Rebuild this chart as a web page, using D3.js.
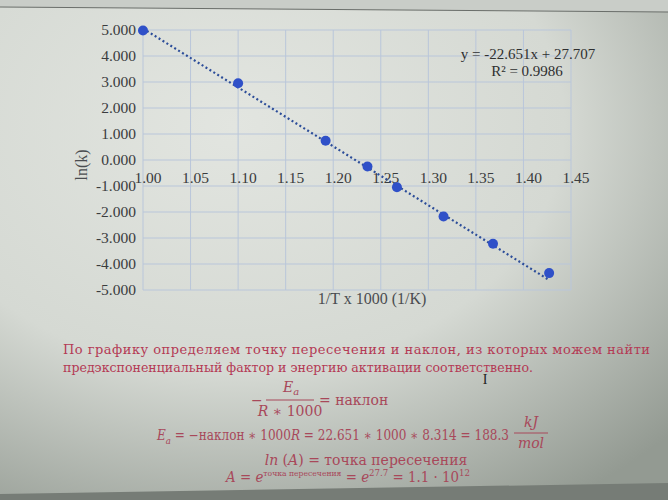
<!DOCTYPE html>
<html>
<head>
<meta charset="utf-8">
<script src="https://cdn.jsdelivr.net/npm/d3@7"></script>
<style>
  html, body { margin: 0; padding: 0; background: #d4d8d3; }
  svg { display: block; }
</style>
</head>
<body>
<svg id="chart" width="668" height="500"></svg>
<script>
// data
var xVals = [1.000, 1.100, 1.192, 1.236, 1.267, 1.316, 1.368, 1.427];
var yVals = [4.98, 2.95, 0.74, -0.25, -1.05, -2.17, -3.22, -4.35];
var xTicks = [1.00, 1.05, 1.10, 1.15, 1.20, 1.25, 1.30, 1.35, 1.40, 1.45];
var yTicks = [5, 4, 3, 2, 1, 0, -1, -2, -3, -4, -5];
var fitSlope = -22.651, fitIntercept = 27.707, fitR2 = 0.9986;
var paraLines = [
  'По графику определяем точку пересечения и наклон, из которых можем найти',
  'предэкспоненциальный фактор и энергию активации соответственно.'
];

var svg = d3.select('#chart'),
    W = 668, H = 500;

var defs = svg.append('defs');
var bg = defs.append('radialGradient').attr('id', 'bg')
  .attr('cx', '35%').attr('cy', '25%').attr('r', '90%');
bg.append('stop').attr('offset', '0%').attr('stop-color', '#e2e5e0');
bg.append('stop').attr('offset', '55%').attr('stop-color', '#d5d9d3');
bg.append('stop').attr('offset', '100%').attr('stop-color', '#939a92');
svg.append('rect').attr('width', W).attr('height', H).attr('fill', 'url(#bg)');

// screen edges
svg.append('path').attr('d', 'M0,0 L668,0 L668,12 L0,7 Z').attr('fill', '#c9cdc8');
svg.append('line').attr('x1', 0).attr('y1', 7).attr('x2', W).attr('y2', 12)
  .attr('stroke', '#6a6e6a').attr('stroke-width', 1);
svg.append('path').attr('d', 'M0,494 L668,483 L668,500 L0,500 Z').attr('fill', '#767c76');

var x = d3.scaleLinear().domain([1.00, 1.45]).range([143, 571]),
    y = d3.scaleLinear().domain([-5, 5]).range([290, 30]);

// grid
var g = svg.append('g');
g.selectAll('.vg').data(xTicks).enter().append('line')
  .attr('x1', d => x(d)).attr('x2', d => x(d))
  .attr('y1', y(5)).attr('y2', y(-5))
  .attr('stroke', '#b9c6da').attr('stroke-width', 1);
g.selectAll('.hg').data(yTicks).enter().append('line')
  .attr('x1', x(1.00)).attr('x2', x(1.45))
  .attr('y1', d => y(d)).attr('y2', d => y(d))
  .attr('stroke', '#b9c6da').attr('stroke-width', 1);

var serif = '"Liberation Serif", "Times New Roman", serif';

// y tick labels
g.selectAll('.yl').data(yTicks).enter().append('text')
  .attr('x', 136).attr('y', d => y(d) + 5)
  .attr('text-anchor', 'end')
  .attr('font-family', serif).attr('font-size', 15.5).attr('fill', '#3a3c3e')
  .text(d => d3.format('.3f')(d).replace('−', '-'));

// x tick labels sit under the zero line
g.selectAll('.xl').data(xTicks).enter().append('text')
  .attr('x', d => x(d) + 5).attr('y', y(0) + 23)
  .attr('text-anchor', 'middle')
  .attr('font-family', serif).attr('font-size', 15.5).attr('fill', '#3a3c3e')
  .text(d => d3.format('.2f')(d));

// axis titles
svg.append('text')
  .attr('transform', 'translate(87,165) rotate(-90)')
  .attr('text-anchor', 'middle')
  .attr('font-family', serif).attr('font-size', 16).attr('fill', '#4a4d50')
  .text('ln(k)');
svg.append('text')
  .attr('x', 372).attr('y', 304).attr('text-anchor', 'middle')
  .attr('font-family', serif).attr('font-size', 16).attr('fill', '#4a4d50')
  .text('1/T x 1000 (1/K)');

// trend line
var xMin = d3.min(xVals), xMax = d3.max(xVals);
svg.append('line')
  .attr('x1', x(xMin)).attr('y1', y(fitSlope * xMin + fitIntercept))
  .attr('x2', x(xMax)).attr('y2', y(fitSlope * xMax + fitIntercept))
  .attr('stroke', '#2c4d99').attr('stroke-width', 2.2)
  .attr('stroke-dasharray', '2,2.6');

// points
svg.selectAll('.pt').data(xVals).enter().append('circle')
  .attr('cx', d => x(d)).attr('cy', (d, i) => y(yVals[i]))
  .attr('r', 5).attr('fill', '#2f50c8');

// equation label
svg.append('text').attr('x', 528).attr('y', 59).attr('text-anchor', 'middle')
  .attr('font-family', serif).attr('font-size', 15).attr('fill', '#2e2f30')
  .text('y = ' + fitSlope + 'x + ' + fitIntercept);
svg.append('text').attr('x', 527).attr('y', 76).attr('text-anchor', 'middle')
  .attr('font-family', serif).attr('font-size', 15).attr('fill', '#2e2f30')
  .text('R² = ' + fitR2);

// paragraph
var red = '#b43a55', mred = '#a8485a',
    body = '"DejaVu Serif", serif',
    math = '"DejaVu Serif", "Liberation Serif", serif';
svg.append('text').attr('x', 63).attr('y', 354)
  .attr('font-family', body).attr('font-size', 13).attr('fill', red)
  .attr('textLength', 587).attr('lengthAdjust', 'spacing')
  .text(paraLines[0]);
svg.append('text').attr('x', 63).attr('y', 372)
  .attr('font-family', body).attr('font-size', 13).attr('fill', red)
  .attr('textLength', 470).attr('lengthAdjust', 'spacingAndGlyphs')
  .text(paraLines[1]);

// text cursor
svg.append('text').attr('x', 485).attr('y', 384).attr('text-anchor', 'middle')
  .attr('font-family', serif).attr('font-size', 14).attr('fill', '#222')
  .text('I');

// formulas
var f = svg.append('g').attr('font-family', math).attr('fill', mred).attr('font-size', 14);
f.append('text').attr('x', 251).attr('y', 405).text('−');
f.append('text').attr('x', 291).attr('y', 392).attr('text-anchor', 'middle')
  .attr('font-style', 'italic').html('E<tspan font-size="10" dy="3">a</tspan>');
f.append('line').attr('x1', 266).attr('x2', 314).attr('y1', 400).attr('y2', 400)
  .attr('stroke', mred).attr('stroke-width', 1);
f.append('text').attr('x', 290).attr('y', 416).attr('text-anchor', 'middle')
  .html('<tspan font-style="italic">R</tspan> ∗ 1000');
f.append('text').attr('x', 319).attr('y', 405).text('= наклон');

f.append('text').attr('x', 157).attr('y', 440)
  .attr('textLength', 352).attr('lengthAdjust', 'spacingAndGlyphs')
  .html('<tspan font-style="italic">E</tspan><tspan font-style="italic" font-size="10" dy="4">a</tspan>'
    + '<tspan dy="-4"> = −наклон ∗ 1000</tspan><tspan font-style="italic">R</tspan>'
    + '<tspan> = 22.651 ∗ 1000 ∗ 8.314 = 188.3</tspan>');
f.append('text').attr('x', 531).attr('y', 427).attr('text-anchor', 'middle')
  .attr('font-style', 'italic').text('kJ');
f.append('line').attr('x1', 514).attr('x2', 548).attr('y1', 433).attr('y2', 433)
  .attr('stroke', mred).attr('stroke-width', 1);
f.append('text').attr('x', 531).attr('y', 448).attr('text-anchor', 'middle')
  .attr('font-style', 'italic').text('mol');

f.append('text').attr('x', 366).attr('y', 465).attr('text-anchor', 'middle')
  .html('<tspan font-style="italic">ln</tspan> (<tspan font-style="italic">A</tspan>) = точка пересечения');
f.append('text').attr('x', 348).attr('y', 482).attr('text-anchor', 'middle')
  .attr('textLength', 244).attr('lengthAdjust', 'spacingAndGlyphs')
  .html('<tspan font-style="italic">A</tspan> = <tspan font-style="italic">e</tspan>'
    + '<tspan font-size="8" dy="-6">точка пересечения</tspan>'
    + '<tspan dy="6"> = </tspan><tspan font-style="italic">e</tspan>'
    + '<tspan font-size="9" dy="-6">27.7</tspan><tspan dy="6"> = 1.1 · 10</tspan>'
    + '<tspan font-size="9" dy="-6">12</tspan>');
</script>
</body>
</html>
